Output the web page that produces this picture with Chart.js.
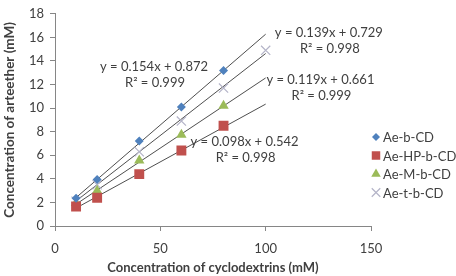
<!DOCTYPE html>
<html>
<head>
<meta charset="utf-8">
<script src="https://cdn.jsdelivr.net/npm/chart.js@4/dist/chart.umd.min.js"></script>
<style>
  html, body { margin: 0; padding: 0; background: #fff; }
  #wrap { width: 456px; height: 276px; }
</style>
</head>
<body>
<div id="wrap"><canvas id="chart" width="456" height="276"></canvas></div>
<script>
// concentrations of cyclodextrins (mM)
const concShort = [10, 20, 40, 60, 80];
const concLong = [10, 20, 40, 60, 80, 100];

// arteether concentrations (mM)
const aeBCD = [2.35, 3.95, 7.2, 10.1, 13.2];
const aeHPBCD = [1.65, 2.4, 4.4, 6.4, 8.5];
const aeMBCD = [1.95, 3.0, 5.55, 7.75, 10.2];
const aeTBCD = [2.1, 3.5, 6.3, 8.9, 11.7, 14.9];

const seriesNames = ['Ae-b-CD', 'Ae-HP-b-CD', 'Ae-M-b-CD', 'Ae-t-b-CD'];

// trend lines, from x = 10 to x = 100
const trendX = [10, 100];
const trendStart = [2.41, 1.52, 1.85, 2.12];
const trendEnd = [16.27, 10.34, 12.56, 14.63];

const trendEquations = ['y = 0.154x + 0.872', 'y = 0.098x + 0.542', 'y = 0.119x + 0.661', 'y = 0.139x + 0.729'];
const trendR2 = ['R\u00b2 = 0.999', 'R\u00b2 = 0.998', 'R\u00b2 = 0.999', 'R\u00b2 = 0.998'];

const xTicks = [0, 50, 100, 150];
const yTicks = [0, 2, 4, 6, 8, 10, 12, 14, 16, 18];

const colors = ['#4F81BD', '#C0504D', '#9BBB59', '#B4B4C8'];
const styles = ['rectRot', 'rect', 'triangle', 'crossRot'];
const radii = [4.5, 7, 6, 6.5];
const AXIS = '#868686';
const TEXT = '#404040';
const FONT = 'Lato, "Open Sans", sans-serif';

const pointSets = [aeBCD, aeHPBCD, aeMBCD, aeTBCD];
const xSets = [concShort, concShort, concShort, concLong];

const datasets = [];
// trend lines first so markers sit on top
trendStart.forEach((s, i) => {
    datasets.push({
        label: 'trend ' + i,
        data: [{ x: trendX[0], y: s }, { x: trendX[1], y: trendEnd[i] }],
        showLine: true,
        borderColor: '#3a3a3a',
        borderWidth: 0.9,
        pointRadius: 0,
        order: 10
    });
});
pointSets.forEach((vals, i) => {
    datasets.push({
        label: seriesNames[i],
        data: vals.map((v, k) => ({ x: xSets[i][k], y: v })),
        showLine: false,
        pointStyle: styles[i],
        pointRadius: radii[i],
        pointBackgroundColor: colors[i],
        pointBorderColor: colors[i],
        pointBorderWidth: i === 3 ? 1.2 : 0,
        order: 1
    });
});

// equation labels, placed at data coordinates
const labelPos = [
    { x: 47, y: 13.5 },
    { x: 90, y: 7.1 },
    { x: 126, y: 12.4 },
    { x: 130, y: 16.4 }
];

const annotations = {
    id: 'annotations',
    afterDatasetsDraw(chart) {
        const { ctx, scales } = chart;
        ctx.save();
        ctx.font = '13px ' + FONT;
        ctx.fillStyle = TEXT;
        ctx.textAlign = 'center';
        ctx.textBaseline = 'middle';
        labelPos.forEach((p, i) => {
            const px = scales.x.getPixelForValue(p.x);
            const py = scales.y.getPixelForValue(p.y);
            ctx.fillText(trendEquations[i], px, py);
            ctx.fillText(trendR2[i], px + 1, py + 16);
        });
        ctx.restore();

        // legend
        ctx.save();
        ctx.font = '13px ' + FONT;
        ctx.textAlign = 'left';
        ctx.textBaseline = 'middle';
        seriesNames.forEach((name, i) => {
            const y = 137 + i * 18.5;
            ctx.fillStyle = colors[i];
            ctx.strokeStyle = colors[i];
            ctx.lineWidth = i === 3 ? 1.2 : 0;
            Chart.helpers.drawPoint(ctx, { pointStyle: styles[i], radius: [4, 6, 5.5, 6][i], borderWidth: i === 3 ? 1.2 : 0 }, 376, y);
            ctx.fillStyle = TEXT;
            ctx.fillText(name, 383, y + 1);
        });
        ctx.restore();
    }
};

new Chart(document.getElementById('chart'), {
    type: 'scatter',
    data: { datasets: datasets },
    options: {
        responsive: false,
        animation: false,
        layout: { padding: { top: 5, right: 85, left: 0, bottom: 0 } },
        plugins: {
            legend: { display: false },
            tooltip: { enabled: false }
        },
        scales: {
            x: {
                type: 'linear',
                min: 0,
                max: 150,
                afterBuildTicks: (s) => { s.ticks = xTicks.map(v => ({ value: v })); },
                afterFit: (s) => { s.height = 50; },
                grid: { drawOnChartArea: false, drawTicks: true, tickLength: 5, color: AXIS },
                border: { color: AXIS },
                ticks: { color: TEXT, font: { family: FONT, size: 13 }, padding: 10 },
                title: {
                    display: true,
                    text: 'Concentration of cyclodextrins (mM)',
                    color: TEXT,
                    font: { family: FONT, size: 13, weight: 'bold' },
                    padding: { top: 0, bottom: 0 }
                }
            },
            y: {
                type: 'linear',
                min: 0,
                max: 18,
                afterBuildTicks: (s) => { s.ticks = yTicks.map(v => ({ value: v })); },
                afterFit: (s) => { s.width = 55; },
                grid: { drawOnChartArea: false, drawTicks: true, tickLength: 5, color: AXIS },
                border: { color: AXIS },
                ticks: { color: TEXT, font: { family: FONT, size: 13 }, padding: 6 },
                title: {
                    display: true,
                    text: 'Concentration of arteether (mM)',
                    color: TEXT,
                    font: { family: FONT, size: 13.5, weight: 'bold' },
                    padding: { top: 2, bottom: 2 }
                }
            }
        }
    },
    plugins: [annotations]
});
</script>
</body>
</html>
